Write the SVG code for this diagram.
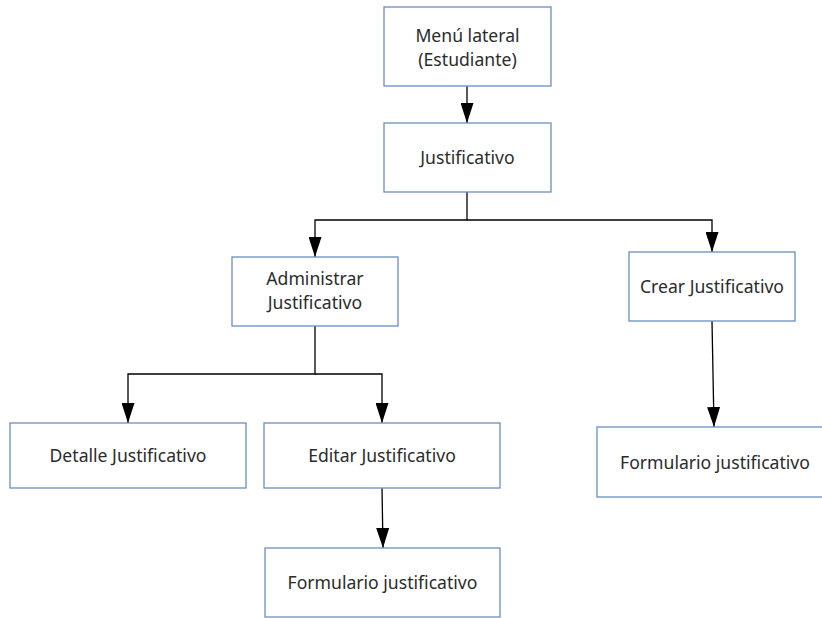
<svg xmlns="http://www.w3.org/2000/svg" width="822" height="618" viewBox="0 0 822 618">
  <style>
    .box { fill: #ffffff; stroke: #6c8ebf; stroke-width: 1.3; }
    .lbl { font-family: "Noto Sans", "Open Sans", sans-serif; font-size: 17.6px; fill: #2b2b2b; text-anchor: middle; }
    .edge { fill: none; stroke: #000000; stroke-width: 1.3; }
  </style>
  <defs>
    <marker id="tri" viewBox="0 0 20 13" refX="20" refY="6.5" markerWidth="20" markerHeight="13" markerUnits="userSpaceOnUse" orient="auto">
      <path d="M0,0 L20,6.5 L0,13 Z" fill="#000000"/>
    </marker>
  </defs>
  <rect width="822" height="618" fill="#ffffff"/>

  <g id="edges">
    <path class="edge" d="M467,86 L467,123" marker-end="url(#tri)"/>
    <path class="edge" d="M467,192 L467,220 L315,220 L315,257" marker-end="url(#tri)"/>
    <path class="edge" d="M467,220 L712,220 L712,252" marker-end="url(#tri)"/>
    <path class="edge" d="M315,326 L315,374 L128,374 L128,423" marker-end="url(#tri)"/>
    <path class="edge" d="M315,374 L382,374 L382,423" marker-end="url(#tri)"/>
    <path class="edge" d="M382,488 L383,548" marker-end="url(#tri)"/>
    <path class="edge" d="M712,321 L714,427" marker-end="url(#tri)"/>
  </g>

  <g id="menu-lateral">
    <rect class="box" x="384" y="7" width="167" height="79"/>
    <text class="lbl" x="467.5" y="42">Menú lateral</text>
    <text class="lbl" x="467.5" y="66">(Estudiante)</text>
  </g>
  <g id="justificativo">
    <rect class="box" x="384" y="123" width="167" height="69"/>
    <text class="lbl" x="467.5" y="164">Justificativo</text>
  </g>
  <g id="administrar">
    <rect class="box" x="232" y="257" width="166" height="69"/>
    <text class="lbl" x="315" y="285">Administrar</text>
    <text class="lbl" x="315" y="309">Justificativo</text>
  </g>
  <g id="crear">
    <rect class="box" x="629" y="252" width="166" height="69"/>
    <text class="lbl" x="712" y="293">Crear Justificativo</text>
  </g>
  <g id="detalle">
    <rect class="box" x="10" y="423" width="236" height="65"/>
    <text class="lbl" x="128" y="462">Detalle Justificativo</text>
  </g>
  <g id="editar">
    <rect class="box" x="264" y="423" width="236" height="65"/>
    <text class="lbl" x="382" y="462">Editar Justificativo</text>
  </g>
  <g id="formulario-editar">
    <rect class="box" x="265" y="548" width="235" height="69"/>
    <text class="lbl" x="382.5" y="589">Formulario justificativo</text>
  </g>
  <g id="formulario-crear">
    <rect class="box" x="597" y="427" width="236" height="70"/>
    <text class="lbl" x="715" y="469">Formulario justificativo</text>
  </g>
</svg>
